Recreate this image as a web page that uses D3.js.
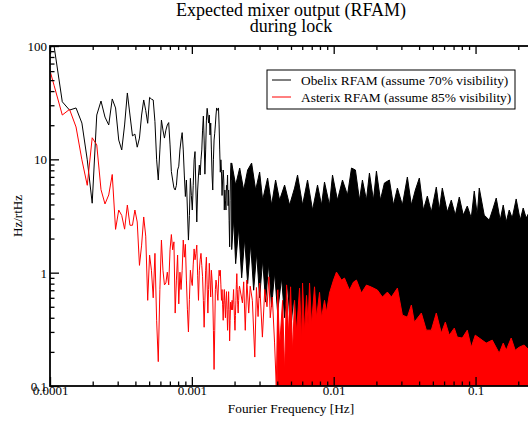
<!DOCTYPE html>
<html>
<head>
<meta charset="utf-8">
<script src="https://cdn.jsdelivr.net/npm/d3@7"></script>
<style>
  body { margin: 0; background: #fff; }
  text { font-family: "Liberation Serif", "Times New Roman", serif; }
</style>
</head>
<body>
<svg id="chart" width="528" height="423"></svg>
<script>
// spectra are FFT bins: frequency = bin * binHz
var binHz = 1 / 65536;

// low frequency part, one value per bin
var obelixFirstBin = 6;
var obelixLow = [95, 100, 32.2, 27.2, 28.4, 20.9, 9.9, 4.1, 24.6, 32.7,
  23.6, 20.1, 34.1, 28.4, 14.8, 12.1, 20.1, 38.5, 24.6, 16.1,
  16.7, 12.8, 15.4, 24.6, 33.4, 27, 20.8, 35.2, 34, 33.4,
  21.5, 9.9, 6.57, 12.1, 22.2, 18.1, 15.4, 18.1, 20.1, 21.1,
  13.4, 7.8, 6.57, 5.6, 5.36, 5.9, 8.05, 8.7, 12.1, 14.8,
  17.2, 12.1, 7.27, 4.7, 6.57, 3.57, 1.94, 3.2, 6.8, 4.8,
  3.57, 5.9, 9.9, 11.7, 5.36, 2.8, 5.36, 7.27, 8.9, 7.27,
  9.9, 12.1, 18.1, 24.1, 14.8, 7.4, 12.1, 22.2, 28.2, 24.6,
  20.9, 24.6, 16.4, 20.9, 12.1, 7.27, 5.36, 9.9, 14.8, 17.0,
  20.1, 24.6, 28.4, 27.2, 27.2, 28.4, 20.1, 12.1, 7.7, 9.9,
  7.8, 4.8, 6.57, 8.05, 6.57, 3.57, 5.36, 4.3, 3.57, 5.9,
  5.36, 7.27, 3.9, 5.36, 2.9, 1.69, 4.3, 8.05, 9.3, 6.57];

var asterixFirstBin = 6;
var asterixLow = [90, 45, 24.6, 27.6, 19.3, 9.9, 5.9, 15.5, 13.4, 5.4,
  4.04, 4.85, 7.35, 2.41, 3.57, 3.2, 2.42, 3.95, 2.62, 2.62,
  3.57, 2.8, 1.16, 1.75, 3.1, 2.1, 0.57, 1.43, 1.05, 0.6,
  1.48, 0.38, 0.164, 0.71, 1.94, 1.05, 0.78, 0.81, 1.01, 0.78,
  1.59, 2.17, 1.59, 1.87, 0.44, 0.86, 1.43, 0.53, 1.01, 0.71,
  1.05, 1.94, 1.37, 1.78, 0.86, 0.47, 0.30, 0.58, 1.05, 0.86,
  0.77, 1.17, 1.62, 1.3, 1.48, 1.75, 0.95, 0.57, 1.05, 1.3,
  1.48, 1.16, 0.92, 0.57, 0.33, 0.57, 1.05, 1.37, 0.78, 0.44,
  0.71, 1.21, 0.86, 0.61, 1.05, 0.86, 0.61, 0.31, 0.14, 0.31,
  0.71, 0.86, 0.78, 0.66, 0.57, 0.81, 1.05, 0.94, 1.05, 0.78,
  0.57, 0.71, 0.52, 0.38, 0.57, 0.71, 0.52, 0.40, 0.57, 0.68,
  0.47, 0.31, 0.47, 0.68, 0.47, 0.25, 0.38, 0.55, 0.52, 0.47,
  0.57, 0.47, 0.57, 0.71, 0.52, 0.38, 0.31, 0.42, 0.57, 0.78,
  0.98, 0.71, 0.52, 0.44, 0.57, 0.71, 0.76];
var asterixMidBins = [149, 152, 156, 160, 165, 169, 175, 182, 187, 192,
  197, 206, 214, 222, 229, 234, 242, 251, 258, 265];
var asterixMidVals = [0.54, 0.83, 0.31, 0.86, 0.44, 0.76, 0.57, 0.18, 0.74, 0.41,
  0.81, 0.27, 0.71, 0.50, 0.92, 0.40, 0.61, 0.24, 0.099, 0.71];

// high frequency part is a dense band: upper and lower edges (Hz, value)
var obelixBandHz = [1.909e-3, 2.036e-3, 2.174e-3, 2.319e-3, 2.474e-3, 2.639e-3, 2.817e-3, 3.005e-3,
  3.155e-3, 3.421e-3, 3.650e-3, 3.894e-3, 4.155e-3, 4.507e-3, 4.887e-3, 5.298e-3,
  5.562e-3, 6.032e-3, 6.540e-3, 7.091e-3, 7.691e-3, 8.206e-3, 8.614e-3, 9.342e-3,
  9.807e-3, 1.063e-2, 1.153e-2, 1.251e-2, 1.335e-2, 1.423e-2, 1.519e-2, 1.594e-2,
  1.701e-2, 1.786e-2, 1.906e-2, 2.001e-2, 2.135e-2, 2.278e-2, 2.470e-2, 2.636e-2,
  2.812e-2, 3.049e-2, 3.306e-2, 3.528e-2, 3.764e-2, 4.016e-2, 4.285e-2, 4.572e-2,
  4.877e-2, 5.289e-2, 5.552e-2, 5.830e-2, 6.321e-2, 6.745e-2, 7.197e-2, 7.679e-2,
  8.193e-2, 8.742e-2, 9.327e-2, 9.793e-2, 0.1028, 0.1062, 0.1151, 0.1249,
  0.1332, 0.1399, 0.1492, 0.1567, 0.1645, 0.1727, 0.1813, 0.1934,
  0.2064, 0.2167, 0.2275, 0.2388, 0.26];
var obelixBandTop = [9.27, 5.93, 8.38, 5.36, 8.05, 9.27, 5.36, 7.73,
  4.37, 6.84, 3.95, 6.57, 4.37, 5.93, 3.95, 5.58,
  7.27, 3.95, 6.57, 3.57, 5.93, 3.95, 6.30, 3.95,
  7.27, 4.37, 6.57, 4.84, 8.38, 8.05, 4.37, 6.57,
  4.37, 7.57, 4.37, 7.88, 4.37, 6.18, 6.57, 3.95,
  5.58, 3.95, 6.98, 3.95, 5.36, 6.84, 3.57, 4.74,
  3.43, 5.69, 3.57, 5.58, 3.43, 4.37, 3.22, 4.65,
  3.22, 3.87, 3.03, 5.25, 3.22, 5.58, 3.22, 2.91,
  3.72, 4.55, 2.91, 3.95, 2.80, 3.57, 3.03, 4.47,
  2.91, 3.72, 3.03, 3.42, 3.3];
var obelixFloorHz = [1.909e-3, 1.972e-3, 2.036e-3, 2.138e-3, 2.245e-3, 2.357e-3, 2.474e-3, 2.598e-3,
  2.727e-3, 2.863e-3, 3.005e-3, 3.155e-3, 3.312e-3, 3.477e-3, 3.650e-3, 3.832e-3,
  4.022e-3, 4.292e-3, 4.507e-3, 4.731e-3, 4.966e-3, 5.213e-3, 5.473e-3, 5.745e-3,
  6.131e-3, 6.540e-3, 6.977e-3, 7.444e-3, 7.946e-3, 8.614e-3, 9.342e-3, 0.26];
var obelixFloor = [1.6, 3.0, 1.2, 2.5, 0.9, 2.0, 0.8, 1.8,
  0.7, 1.5, 0.6, 1.3, 0.55, 1.2, 0.5, 1.0,
  0.45, 0.9, 0.4, 0.8, 0.3, 0.6, 0.2, 0.5,
  0.15, 0.35, 0.09, 0.25, 0.07, 0.18, 0.05, 0.05];

var asterixBandHz = [4.022e-3, 4.155e-3, 4.362e-3, 4.507e-3, 4.654e-3, 4.808e-3, 4.966e-3, 5.129e-3,
  5.298e-3, 5.473e-3, 5.745e-3, 5.935e-3, 6.032e-3, 6.230e-3, 6.435e-3, 6.595e-3,
  6.755e-3, 6.977e-3, 7.325e-3, 7.568e-3, 7.946e-3, 8.206e-3, 8.614e-3, 8.897e-3,
  9.342e-3, 9.968e-3, 1.046e-2, 1.135e-2,
  1.191e-2, 1.292e-2, 1.379e-2, 1.447e-2, 1.569e-2, 1.701e-2, 1.845e-2, 2.033e-2,
  2.205e-2, 2.391e-2, 2.551e-2, 2.812e-2, 3.049e-2, 3.306e-2, 3.528e-2, 3.703e-2,
  4.148e-2, 4.498e-2, 4.877e-2, 5.289e-2, 5.735e-2, 6.122e-2, 6.529e-2, 7.081e-2,
  7.434e-2, 8.062e-2, 8.742e-2, 9.327e-2, 9.952e-2, 0.1062, 0.1189, 0.1311,
  0.1468, 0.1567, 0.1645, 0.1783, 0.1903, 0.2030, 0.2201, 0.2388, 0.26];
var asterixBandTop = [0.70, 0.22, 0.57, 0.13, 0.78, 0.28, 0.75, 0.20,
  0.57, 0.30, 0.73, 0.25, 0.81, 0.30, 0.63, 0.35,
  0.81, 0.35, 0.75, 0.40, 0.67, 0.40, 0.57, 0.45,
  0.66, 0.860, 1.012, 0.860,
  0.896, 0.702, 0.826, 0.860, 0.661, 0.777, 0.746, 0.702,
  0.609, 0.674, 0.609, 0.731, 0.422, 0.405, 0.518, 0.366,
  0.440, 0.311, 0.311, 0.440, 0.293, 0.366, 0.281, 0.324,
  0.270, 0.265, 0.311, 0.220, 0.281, 0.265, 0.239, 0.254,
  0.195, 0.239, 0.207, 0.265, 0.207, 0.220, 0.230, 0.207, 0.2];
var asterixFloorHz = [4.022e-3, 0.26];
var asterixFloor = [0.05, 0.05];

var xTicks = [1e-4, 1e-3, 1e-2, 1e-1];
var xTickLabels = ['0.0001', '0.001', '0.01', '0.1'];
var yTicks = [0.1, 1, 10, 100];
var yTickLabels = ['0.1', '1', '10', '100'];
var seriesNames = ['Obelix RFAM (assume 70% visibility)', 'Asterix RFAM (assume 85% visibility)'];
var colors = ['#000000', '#ff0000'];

var pLeft = 50, pTop = 46, pRight = 532, pBottom = 386;

var svg = d3.select('#chart');

var x = d3.scaleLog().domain([1e-4, 0.25]).range([pLeft, pRight]);
var y = d3.scaleLog().domain([0.1, 100]).range([pBottom, pTop]);

svg.append('defs').append('clipPath')
  .attr('id', 'plot-clip')
  .append('rect')
  .attr('x', pLeft).attr('y', pTop)
  .attr('width', pRight - pLeft).attr('height', pBottom - pTop);

var line = d3.line()
  .x(function (d) { return x(d[0]); })
  .y(function (d) { return y(d[1]); });

function binPoints(firstBin, vals) {
  return vals.map(function (v, i) { return [(firstBin + i) * binHz, v]; });
}

function bandPoints(hz, topVals, floorHz, floorVals) {
  var upper = hz.map(function (f, i) { return [f, topVals[i]]; });
  var lower = floorHz.map(function (f, i) { return [f, floorVals[i]]; }).reverse();
  return upper.concat(lower);
}

var obelixLine = binPoints(obelixFirstBin, obelixLow);
var asterixLine = binPoints(asterixFirstBin, asterixLow)
  .concat(asterixMidBins.map(function (b, i) { return [b * binHz, asterixMidVals[i]]; }));

var plot = svg.append('g').attr('clip-path', 'url(#plot-clip)');

// obelix first, asterix drawn over it
plot.append('path')
  .attr('d', line(bandPoints(obelixBandHz, obelixBandTop, obelixFloorHz, obelixFloor)) + 'Z')
  .attr('fill', colors[0])
  .attr('stroke', colors[0])
  .attr('stroke-width', 1);
plot.append('path')
  .attr('d', line(obelixLine))
  .attr('fill', 'none')
  .attr('stroke', colors[0])
  .attr('stroke-width', 1);

plot.append('path')
  .attr('d', line(bandPoints(asterixBandHz, asterixBandTop, asterixFloorHz, asterixFloor)) + 'Z')
  .attr('fill', colors[1])
  .attr('stroke', colors[1])
  .attr('stroke-width', 1);
plot.append('path')
  .attr('d', line(asterixLine))
  .attr('fill', 'none')
  .attr('stroke', colors[1])
  .attr('stroke-width', 1);

// axes, ticks pointing inwards
var xMinor = x.ticks().filter(function (d) { return xTicks.indexOf(d) < 0; });
var yMinor = y.ticks().filter(function (d) { return yTicks.indexOf(d) < 0; });

function styleAxis(g) {
  g.selectAll('.domain').remove();
  g.selectAll('line').attr('stroke', '#000').attr('stroke-width', 1.3);
  g.attr('font-family', null).attr('font-size', null);
  g.selectAll('text').attr('fill', '#000').style('font-size', '13px');
}

var bx = svg.append('g').attr('transform', 'translate(0,' + pBottom + ')');
bx.call(d3.axisBottom(x).tickValues(xTicks).tickSize(-9).tickPadding(0)
  .tickFormat(function (d, i) { return xTickLabels[i]; }));
bx.append('g').call(d3.axisBottom(x).tickValues(xMinor).tickSize(-4.5).tickFormat(''));
bx.call(styleAxis);
bx.selectAll('text').attr('y', 9).attr('dy', 0);

var tx = svg.append('g').attr('transform', 'translate(0,' + pTop + ')');
tx.call(d3.axisTop(x).tickValues(xTicks).tickSize(-8).tickFormat(''));
tx.append('g').call(d3.axisTop(x).tickValues(xMinor).tickSize(-4).tickFormat(''));
tx.call(styleAxis);

var ly = svg.append('g').attr('transform', 'translate(' + pLeft + ',0)');
ly.call(d3.axisLeft(y).tickValues(yTicks).tickSize(-9).tickPadding(3)
  .tickFormat(function (d, i) { return yTickLabels[i]; }));
ly.append('g').call(d3.axisLeft(y).tickValues(yMinor).tickSize(-4.5).tickFormat(''));
ly.call(styleAxis);
ly.selectAll('text').attr('dy', '0.34em');

svg.append('rect')
  .attr('x', pLeft).attr('y', pTop)
  .attr('width', pRight - pLeft).attr('height', pBottom - pTop)
  .attr('fill', 'none')
  .attr('stroke', '#000')
  .attr('stroke-width', 1.8);

// title and axis titles
var cx = (pLeft + pRight) / 2;
svg.append('text').attr('x', cx).attr('y', 15.5)
  .attr('text-anchor', 'middle').style('font-size', '18px')
  .text('Expected mixer output (RFAM)');
svg.append('text').attr('x', cx).attr('y', 32)
  .attr('text-anchor', 'middle').style('font-size', '18px')
  .text('during lock');
svg.append('text').attr('x', cx).attr('y', 413)
  .attr('text-anchor', 'middle').style('font-size', '13.3px')
  .text('Fourier Frequency [Hz]');
svg.append('text')
  .attr('transform', 'translate(22,' + (pTop + pBottom) / 2 + ') rotate(-90)')
  .attr('text-anchor', 'middle').style('font-size', '13px')
  .text('Hz/rtHz');

// legend
var legend = svg.append('g');
legend.append('rect')
  .attr('x', 267).attr('y', 70).attr('width', 248).attr('height', 39)
  .attr('fill', '#fff').attr('stroke', '#000').attr('stroke-width', 1);
seriesNames.forEach(function (name, i) {
  var ly0 = 80 + i * 17;
  legend.append('line')
    .attr('x1', 272).attr('x2', 291).attr('y1', ly0).attr('y2', ly0)
    .attr('stroke', colors[i]).attr('stroke-width', 1);
  legend.append('text')
    .attr('x', 301).attr('y', ly0 + 4.5)
    .style('font-size', '13.4px')
    .text(name);
});
</script>
</body>
</html>
